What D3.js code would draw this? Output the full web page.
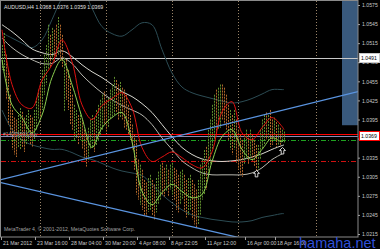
<!DOCTYPE html>
<html>
<head>
<meta charset="utf-8">
<script src="https://cdn.jsdelivr.net/npm/d3@7"></script>
<style>
body { margin:0; background:#000; }
svg { display:block; }
text { font-family: "Liberation Sans", Arial, sans-serif; }
</style>
</head>
<body>
<div class="chart"></div>
<script>
// H4 bars, one per 2px slot
var highs = [1.0512,1.0531,1.0497,1.0473,1.0434,1.0410,1.0398,1.0395,1.0402,1.0413,
 1.0407,1.0398,1.0402,1.0410,1.0402,1.0398,1.0410,1.0429,1.0442,1.0450,
 1.0473,1.0497,1.0512,1.0544,1.0528,1.0539,1.0536,1.0544,1.0556,1.0544,
 1.0528,1.0492,1.0489,1.0473,1.0457,1.0434,1.0418,1.0410,1.0402,1.0407,
 1.0395,1.0379,1.0371,1.0382,1.0395,1.0402,1.0398,1.0410,1.0418,1.0426,
 1.0434,1.0439,1.0426,1.0429,1.0442,1.0450,1.0462,1.0457,1.0450,1.0454,
 1.0445,1.0442,1.0434,1.0418,1.0402,1.0387,1.0371,1.0363,1.0332,1.0324,
 1.0316,1.0300,1.0296,1.0303,1.0308,1.0300,1.0293,1.0303,1.0313,1.0324,
 1.0327,1.0319,1.0324,1.0316,1.0324,1.0327,1.0319,1.0316,1.0308,1.0313,
 1.0316,1.0308,1.0300,1.0303,1.0308,1.0300,1.0293,1.0285,1.0300,1.0324,
 1.0332,1.0347,1.0352,1.0379,1.0395,1.0418,1.0434,1.0442,1.0445,1.0450,
 1.0450,1.0445,1.0434,1.0418,1.0410,1.0402,1.0410,1.0395,1.0379,1.0371,
 1.0363,1.0371,1.0379,1.0371,1.0379,1.0371,1.0363,1.0355,1.0355,1.0379,
 1.0395,1.0402,1.0406,1.0402,1.0410,1.0395,1.0398,1.0391,1.0387,1.0382,
 1.0379,1.0376];
var lows = [1.0473,1.0470,1.0426,1.0387,1.0371,1.0348,1.0340,1.0336,1.0351,1.0348,
 1.0351,1.0344,1.0355,1.0363,1.0355,1.0351,1.0363,1.0379,1.0395,1.0398,
 1.0410,1.0434,1.0450,1.0473,1.0476,1.0489,1.0486,1.0492,1.0497,1.0489,
 1.0476,1.0407,1.0426,1.0410,1.0387,1.0379,1.0363,1.0366,1.0355,1.0363,
 1.0348,1.0335,1.0321,1.0332,1.0348,1.0351,1.0344,1.0355,1.0363,1.0371,
 1.0379,1.0387,1.0376,1.0382,1.0395,1.0398,1.0402,1.0407,1.0395,1.0398,
 1.0395,1.0382,1.0379,1.0371,1.0363,1.0348,1.0316,1.0277,1.0269,1.0261,
 1.0253,1.0245,1.0242,1.0250,1.0253,1.0245,1.0238,1.0249,1.0261,1.0269,
 1.0277,1.0274,1.0282,1.0274,1.0285,1.0277,1.0269,1.0253,1.0249,1.0261,
 1.0269,1.0250,1.0241,1.0245,1.0253,1.0238,1.0230,1.0225,1.0230,1.0245,
 1.0269,1.0277,1.0285,1.0308,1.0324,1.0348,1.0363,1.0371,1.0379,1.0382,
 1.0395,1.0387,1.0379,1.0363,1.0348,1.0340,1.0348,1.0327,1.0316,1.0308,
 1.0305,1.0324,1.0332,1.0324,1.0335,1.0329,1.0321,1.0313,1.0316,1.0332,
 1.0348,1.0355,1.0363,1.0360,1.0352,1.0355,1.0363,1.0352,1.0355,1.0354,
 1.0360,1.0359];
var barDir = ("uudddddduu" + "dduudduuud" + "uuuududdud" + "dudddduudu" + "ddduuuduuu" +
 "udduuuuddu" + "dddddddddu" + "ddduudduuu" + "dduduudddu" + "udduuddduu" +
 "uuduuuuduu" + "ddddududdd" + "duududdduu" + "uududdudud" + "uu").split("");

// indicator lines, read every 5 bars
var lineBars = [0,5,10,15,20,25,30,35,40,45,50,55,60,65,70,75,80,85,90,95,100,105,110,115,120,125,130,135,140,141];
var redMa = [1.0536,1.0450,1.0418,1.0413,1.0457,1.0481,1.0520,1.0486,1.0418,1.0395,1.0417,1.0428,1.0437,1.0413,1.0351,
 1.0329,1.0336,1.0344,1.0335,1.0324,1.0319,1.0344,1.0407,1.0423,1.0374,1.0363,1.0382,1.0398,1.0384,1.0379];
var greenMa = [1.0489,1.0418,1.0398,1.0374,1.0402,1.0461,1.0489,1.0450,1.0398,1.0351,1.0382,1.0398,1.0406,1.0360,1.0282,
 1.0261,1.0280,1.0293,1.0282,1.0272,1.0277,1.0329,1.0368,1.0379,1.0348,1.0332,1.0348,1.0366,1.0360,1.0363];
var whiteUp = [1.0544,1.0533,1.0520,1.0506,1.0500,1.0497,1.0503,1.0494,1.0481,1.0470,1.0461,1.0450,1.0439,1.0431,1.0420,
 1.0406,1.0387,1.0368,1.0351,1.0340,1.0333,1.0330,1.0329,1.0330,1.0332,1.0336,1.0341,1.0348,1.0354,1.0355];
var whiteLow = [1.0523,1.0508,1.0497,1.0489,1.0483,1.0483,1.0492,1.0483,1.0465,1.0450,1.0437,1.0426,1.0417,1.0410,1.0402,
 1.0387,1.0366,1.0348,1.0330,1.0319,1.0311,1.0308,1.0308,1.0308,1.0308,1.0311,1.0319,1.0332,1.0341,1.0343];
var tealUp = [1.0531,1.0523,1.0515,1.0508,1.0520,1.0552,1.0586,1.0607,1.0602,1.0570,1.0541,1.0530,1.0526,1.0536,1.0547,
 1.0544,1.0505,1.0468,1.0446,1.0437,1.0432,1.0428,1.0424,1.0421,1.0423,1.0428,1.0435,1.0442,1.0442,1.0442];
var tealLow = [1.0410,1.0379,1.0363,1.0355,1.0351,1.0348,1.0348,1.0343,1.0336,1.0332,1.0326,1.0319,1.0314,1.0311,1.0307,
 1.0293,1.0277,1.0264,1.0253,1.0245,1.0241,1.0238,1.0236,1.0234,1.0234,1.0236,1.0241,1.0244,1.0247,1.0247];

var priceTicks = [1.0575,1.0545,1.0515,1.0485,1.0455,1.0425,1.0395,1.0365,1.0335,1.0305,1.0275,1.0245,1.0215];
var timeLabels = ["21 Mar 2012","23 Mar 16:00","28 Mar 04:00","30 Mar 20:00","4 Apr 08:00","8 Apr 22:05","11 Apr 12:00","16 Apr 00:00","18 Apr 16:00"];
var timeLabelBars = [0,17,34,51,68,84,102,122,137];
var separatorBars = [19,52,85,118,157];

var levelPrice = 1.0491, orderPrice = 1.0372, bidPrice = 1.0369, tpPrice = 1.0363, slPrice = 1.0329;
var upTrendBars = [-1,178], upTrendPrices = [1.0300,1.0439];
var dnTrendBars = [-1,119], dnTrendPrices = [1.0296,1.0209];
var boxBars = [170,178], boxPrices = [1.0386,1.0600];
var fractalBars = [127,140], fractalPrices = [1.0315,1.0351];

function drawChart(){
var width = 380, height = 249;
var svg = d3.select(".chart").append("svg").attr("width", width).attr("height", height);
svg.append("rect").attr("width", width).attr("height", height).attr("fill", "#000");

var xs = d3.scaleLinear().domain([0, 178]).range([2, 358]);
var ys = d3.scaleLinear().domain([1.0215, 1.0575]).range([234, 5]);

var defs = svg.append("defs");
defs.append("clipPath").attr("id", "plot").append("rect")
	.attr("x", 1).attr("y", 1).attr("width", 357).attr("height", 236);

var plot = svg.append("g").attr("clip-path", "url(#plot)");

// box at the right
plot.append("rect").attr("x", xs(boxBars[0])).attr("y", ys(boxPrices[1]))
	.attr("width", xs(boxBars[1]) - xs(boxBars[0])).attr("height", ys(boxPrices[0]) - ys(boxPrices[1]))
	.attr("fill", "#39597c");

// week separators
plot.selectAll(".sep").data(separatorBars).enter().append("line")
	.attr("x1", function(d){ return xs(d) + 0.5; }).attr("x2", function(d){ return xs(d) + 0.5; })
	.attr("y1", 1).attr("y2", 237)
	.attr("stroke", "#9a8468").attr("stroke-dasharray", "1,2");

// horizontal levels
function hline(p, color, dash){
	plot.append("line").attr("x1", 1).attr("x2", 358)
		.attr("y1", Math.round(ys(p)) + 0.5).attr("y2", Math.round(ys(p)) + 0.5)
		.attr("stroke", color).attr("stroke-dasharray", dash || null);
}
hline(levelPrice, "#c8c8c8");
hline(orderPrice, "#ff0000");
hline(bidPrice, "#8c8cb4");
hline(tpPrice, "#1fa01f", "5,2,1,2");
hline(slPrice, "#d01010", "5,2,1,2");

function band(values, color){
	var ln = d3.line().curve(d3.curveCatmullRom)
		.x(function(d, i){ return xs(lineBars[i]); })
		.y(function(d){ return ys(d); });
	plot.append("path").datum(values).attr("d", ln)
		.attr("fill", "none").attr("stroke", color).attr("stroke-width", 1);
}
band(tealUp, "#2c4c54");
band(tealLow, "#2c4c54");
band(whiteUp, "#d8d8d0");
band(whiteLow, "#b8b8b0");

// bars
plot.selectAll(".bar").data(highs).enter().append("line")
	.attr("x1", function(d, i){ return xs(i) + 0.5; })
	.attr("x2", function(d, i){ return xs(i) + 0.5; })
	.attr("y1", function(d){ return ys(d); })
	.attr("y2", function(d, i){ return ys(lows[i]); })
	.attr("stroke", function(d, i){ return barDir[i] == "u" ? "#5e8c2c" : "#b0662a"; })
	.attr("stroke-dasharray", "2,1");

band(redMa, "#e01010");
band(greenMa, "#8cd050");

// trend lines
function trend(bars, prices){
	plot.append("line").attr("x1", xs(bars[0])).attr("x2", xs(bars[1]))
		.attr("y1", ys(prices[0])).attr("y2", ys(prices[1]))
		.attr("stroke", "#5a94e0").attr("stroke-width", 1.3);
}
trend(upTrendBars, upTrendPrices);
trend(dnTrendBars, dnTrendPrices);

// fractal arrows
plot.selectAll(".arrow").data(fractalBars).enter().append("path")
	.attr("transform", function(d, i){ return "translate(" + (xs(d) + 0.5) + "," + ys(fractalPrices[i]) + ")"; })
	.attr("d", "M0,0L3,3L1.3,3L1.3,6.5L-1.3,6.5L-1.3,3L-3,3Z")
	.attr("fill", "#000").attr("stroke", "#e8e8e8").attr("stroke-width", 0.9);

// frame
svg.append("rect").attr("x", 0.5).attr("y", 0.5).attr("width", 357.5).attr("height", 236.5)
	.attr("fill", "none").attr("stroke", "#8a8a8a");

// price axis
var ax = svg.append("g").attr("transform", "translate(358,0)")
	.call(d3.axisRight(ys).tickValues(priceTicks).tickSize(2).tickPadding(2).tickFormat(d3.format(".4f")));
ax.select(".domain").remove();
ax.selectAll("line").attr("stroke", "#a0a0a0");
ax.selectAll("text").attr("fill", "#c8c8c8").style("font-size", "5.2px").style("font-family", "Liberation Sans, Arial, sans-serif");

function priceBox(p, border){
	var y = Math.round(ys(p));
	svg.append("rect").attr("x", 359.5).attr("y", y - 4.5).attr("width", 20).attr("height", 9)
		.attr("fill", "#ffffff").attr("stroke", border).attr("stroke-width", 1);
	svg.append("text").attr("x", 361).attr("y", y + 2).text(d3.format(".4f")(p))
		.attr("fill", "#000").style("font-size", "5.2px");
}
priceBox(levelPrice, "#c8c8c8");
priceBox(bidPrice, "#ff0000");

// time axis
svg.selectAll(".tl").data(timeLabels).enter().append("text")
	.attr("x", function(d, i){ return xs(timeLabelBars[i]) + 1; })
	.attr("y", 244.5)
	.text(function(d){ return d; })
	.attr("fill", "#c8c8c8").style("font-size", "5.2px");
svg.selectAll(".tt").data(timeLabelBars).enter().append("line")
	.attr("x1", function(d){ return xs(d) - 0.5; }).attr("x2", function(d){ return xs(d) - 0.5; })
	.attr("y1", 237).attr("y2", 240).attr("stroke", "#a0a0a0");

// texts
svg.append("text").attr("x", 4).attr("y", 8.5).text("AUDUSD,H4  1.0368 1.0376 1.0359 1.0369")
	.attr("fill", "#e0e0e0").style("font-size", "5.2px");
svg.append("text").attr("x", 3).attr("y", 135.5).text("#14075693 buy")
	.attr("fill", "#a8a8a8").style("font-size", "5px");
svg.append("text").attr("x", 4).attr("y", 230.5).text("MetaTrader 4, \u00a9 2001-2012, MetaQuotes Software Corp.")
	.attr("fill", "#a0a0a0").style("font-size", "5.2px");
svg.append("text").attr("x", 299).attr("y", 248).text("hamaha.net")
	.attr("fill", "#3050d8").style("font-size", "14.5px");
}
drawChart();
</script>
</body>
</html>
